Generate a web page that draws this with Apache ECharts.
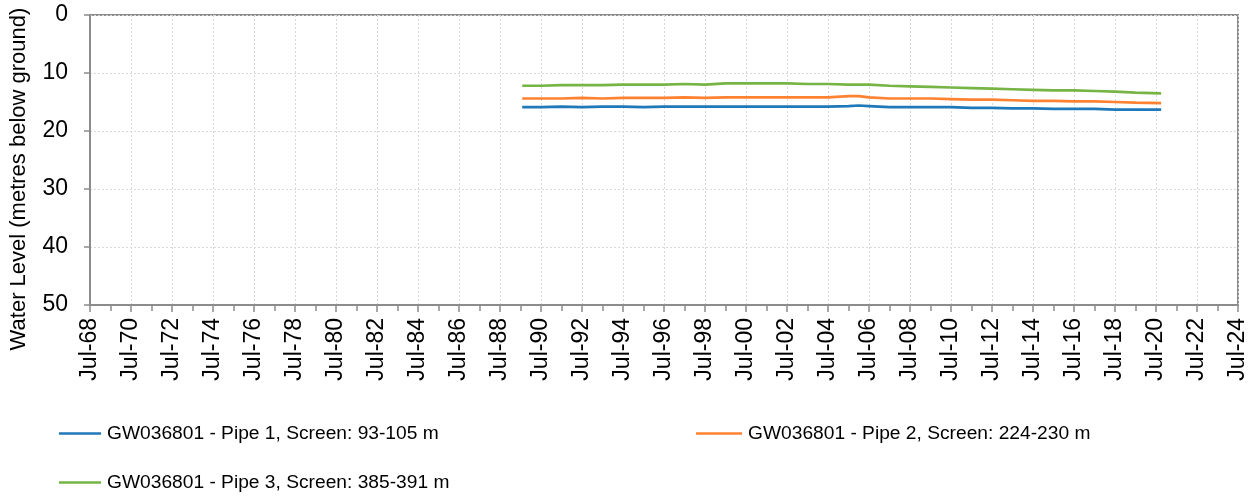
<!DOCTYPE html>
<html>
<head>
<meta charset="utf-8">
<script src="https://cdn.jsdelivr.net/npm/echarts@6/dist/echarts.min.js"></script>
<style>html,body{margin:0;padding:0;background:#fff}#c{width:1256px;height:496px}</style>
</head>
<body>
<div id="c"></div>
<script>
var dates = ['1989-08','1990-07','1991-07','1992-07','1993-07','1994-07','1995-07','1996-07','1997-07','1998-07','1999-07','2000-07','2001-07','2002-07','2003-07','2004-07','2005-07','2006-01','2006-07','2007-07','2008-07','2009-07','2010-07','2011-07','2012-07','2013-07','2014-07','2015-07','2016-07','2017-07','2018-07','2019-07','2020-10'];
var pipe1 = [15.9,15.9,15.8,15.9,15.8,15.8,15.9,15.8,15.8,15.8,15.8,15.8,15.8,15.8,15.8,15.8,15.7,15.6,15.7,15.9,15.9,15.9,15.9,16.0,16.0,16.1,16.1,16.2,16.2,16.2,16.3,16.3,16.3];
var pipe2 = [14.4,14.4,14.4,14.3,14.4,14.3,14.3,14.3,14.2,14.3,14.2,14.2,14.2,14.2,14.2,14.2,14.0,14.0,14.2,14.4,14.4,14.4,14.5,14.6,14.6,14.7,14.8,14.8,14.9,14.9,15.0,15.1,15.2];
var pipe3 = [12.2,12.2,12.1,12.1,12.1,12.0,12.0,12.0,11.9,12.0,11.8,11.8,11.8,11.8,11.9,11.9,12.0,12.0,12.0,12.2,12.3,12.4,12.5,12.6,12.7,12.8,12.9,13.0,13.0,13.1,13.2,13.4,13.5];
var seriesNames = ['GW036801 - Pipe 1, Screen: 93-105 m','GW036801 - Pipe 2, Screen: 224-230 m','GW036801 - Pipe 3, Screen: 385-391 m'];
var yTicks = [0,10,20,30,40,50];

function toX(d){var p=d.split('-');return (+p[0]-1968)+(+p[1]-7)/12;}
function pts(vals){return dates.map(function(d,i){return [toX(d),vals[i]];});}

var chart = echarts.init(document.getElementById('c'));
var font = 'Liberation Sans, Arial, sans-serif';
function leg(name,left,top,w){
  return {data:[name],left:left,top:top,icon:'rect',itemWidth:w,itemHeight:2.5,itemGap:0,
    textStyle:{fontSize:19.2,color:'#000',fontFamily:font,padding:[0,0,0,1]}};
}
chart.setOption({
  animation:false,
  grid:{left:90,right:18,top:15,bottom:191,show:true,borderColor:'#8c8c8c',borderWidth:2,backgroundColor:'transparent'},
  xAxis:{type:'value',min:0,max:56,interval:2,
    axisLine:{onZero:false,lineStyle:{color:'#8c8c8c',width:2}},
    axisTick:{show:true,length:7,lineStyle:{color:'#8c8c8c',width:1.5}},
    minorTick:{show:true,splitNumber:2,length:6,lineStyle:{color:'#8c8c8c',width:1.5}},
    splitLine:{show:true,lineStyle:{color:'#d9d9d9',type:[2,2],width:1}},
    axisLabel:{rotate:90,margin:13,fontSize:23,color:'#000',fontFamily:font,
      formatter:function(v){var y=(68+v)%100;return 'Jul-'+(y<10?'0':'')+y;}}
  },
  yAxis:{type:'value',inverse:true,min:yTicks[0],max:yTicks[yTicks.length-1],interval:10,
    name:'Water Level (metres below ground)',nameLocation:'middle',nameGap:60,
    nameTextStyle:{fontSize:22,color:'#000',fontFamily:font,padding:[0,38,0,0]},
    axisLine:{show:true,lineStyle:{color:'#8c8c8c',width:2}},
    axisTick:{show:true,length:6,lineStyle:{color:'#8c8c8c',width:1.5}},
    splitLine:{show:true,lineStyle:{color:'#d9d9d9',type:[2,2],width:1}},
    axisLabel:{margin:22,fontSize:23,color:'#000',fontFamily:font}
  },
  legend:[
    leg(seriesNames[0],54,419,42),
    leg(seriesNames[1],691,419,46),
    leg(seriesNames[2],54,468,42)
  ],
  series:[
    {name:seriesNames[0],type:'line',symbol:'none',data:pts(pipe1),lineStyle:{color:'#1f78b8',width:2.7},itemStyle:{color:'#1f78b8'}},
    {name:seriesNames[1],type:'line',symbol:'none',data:pts(pipe2),lineStyle:{color:'#ff8232',width:2.7},itemStyle:{color:'#ff8232'}},
    {name:seriesNames[2],type:'line',symbol:'none',data:pts(pipe3),lineStyle:{color:'#76b545',width:2.7},itemStyle:{color:'#76b545'}}
  ]
});
</script>
</body>
</html>
